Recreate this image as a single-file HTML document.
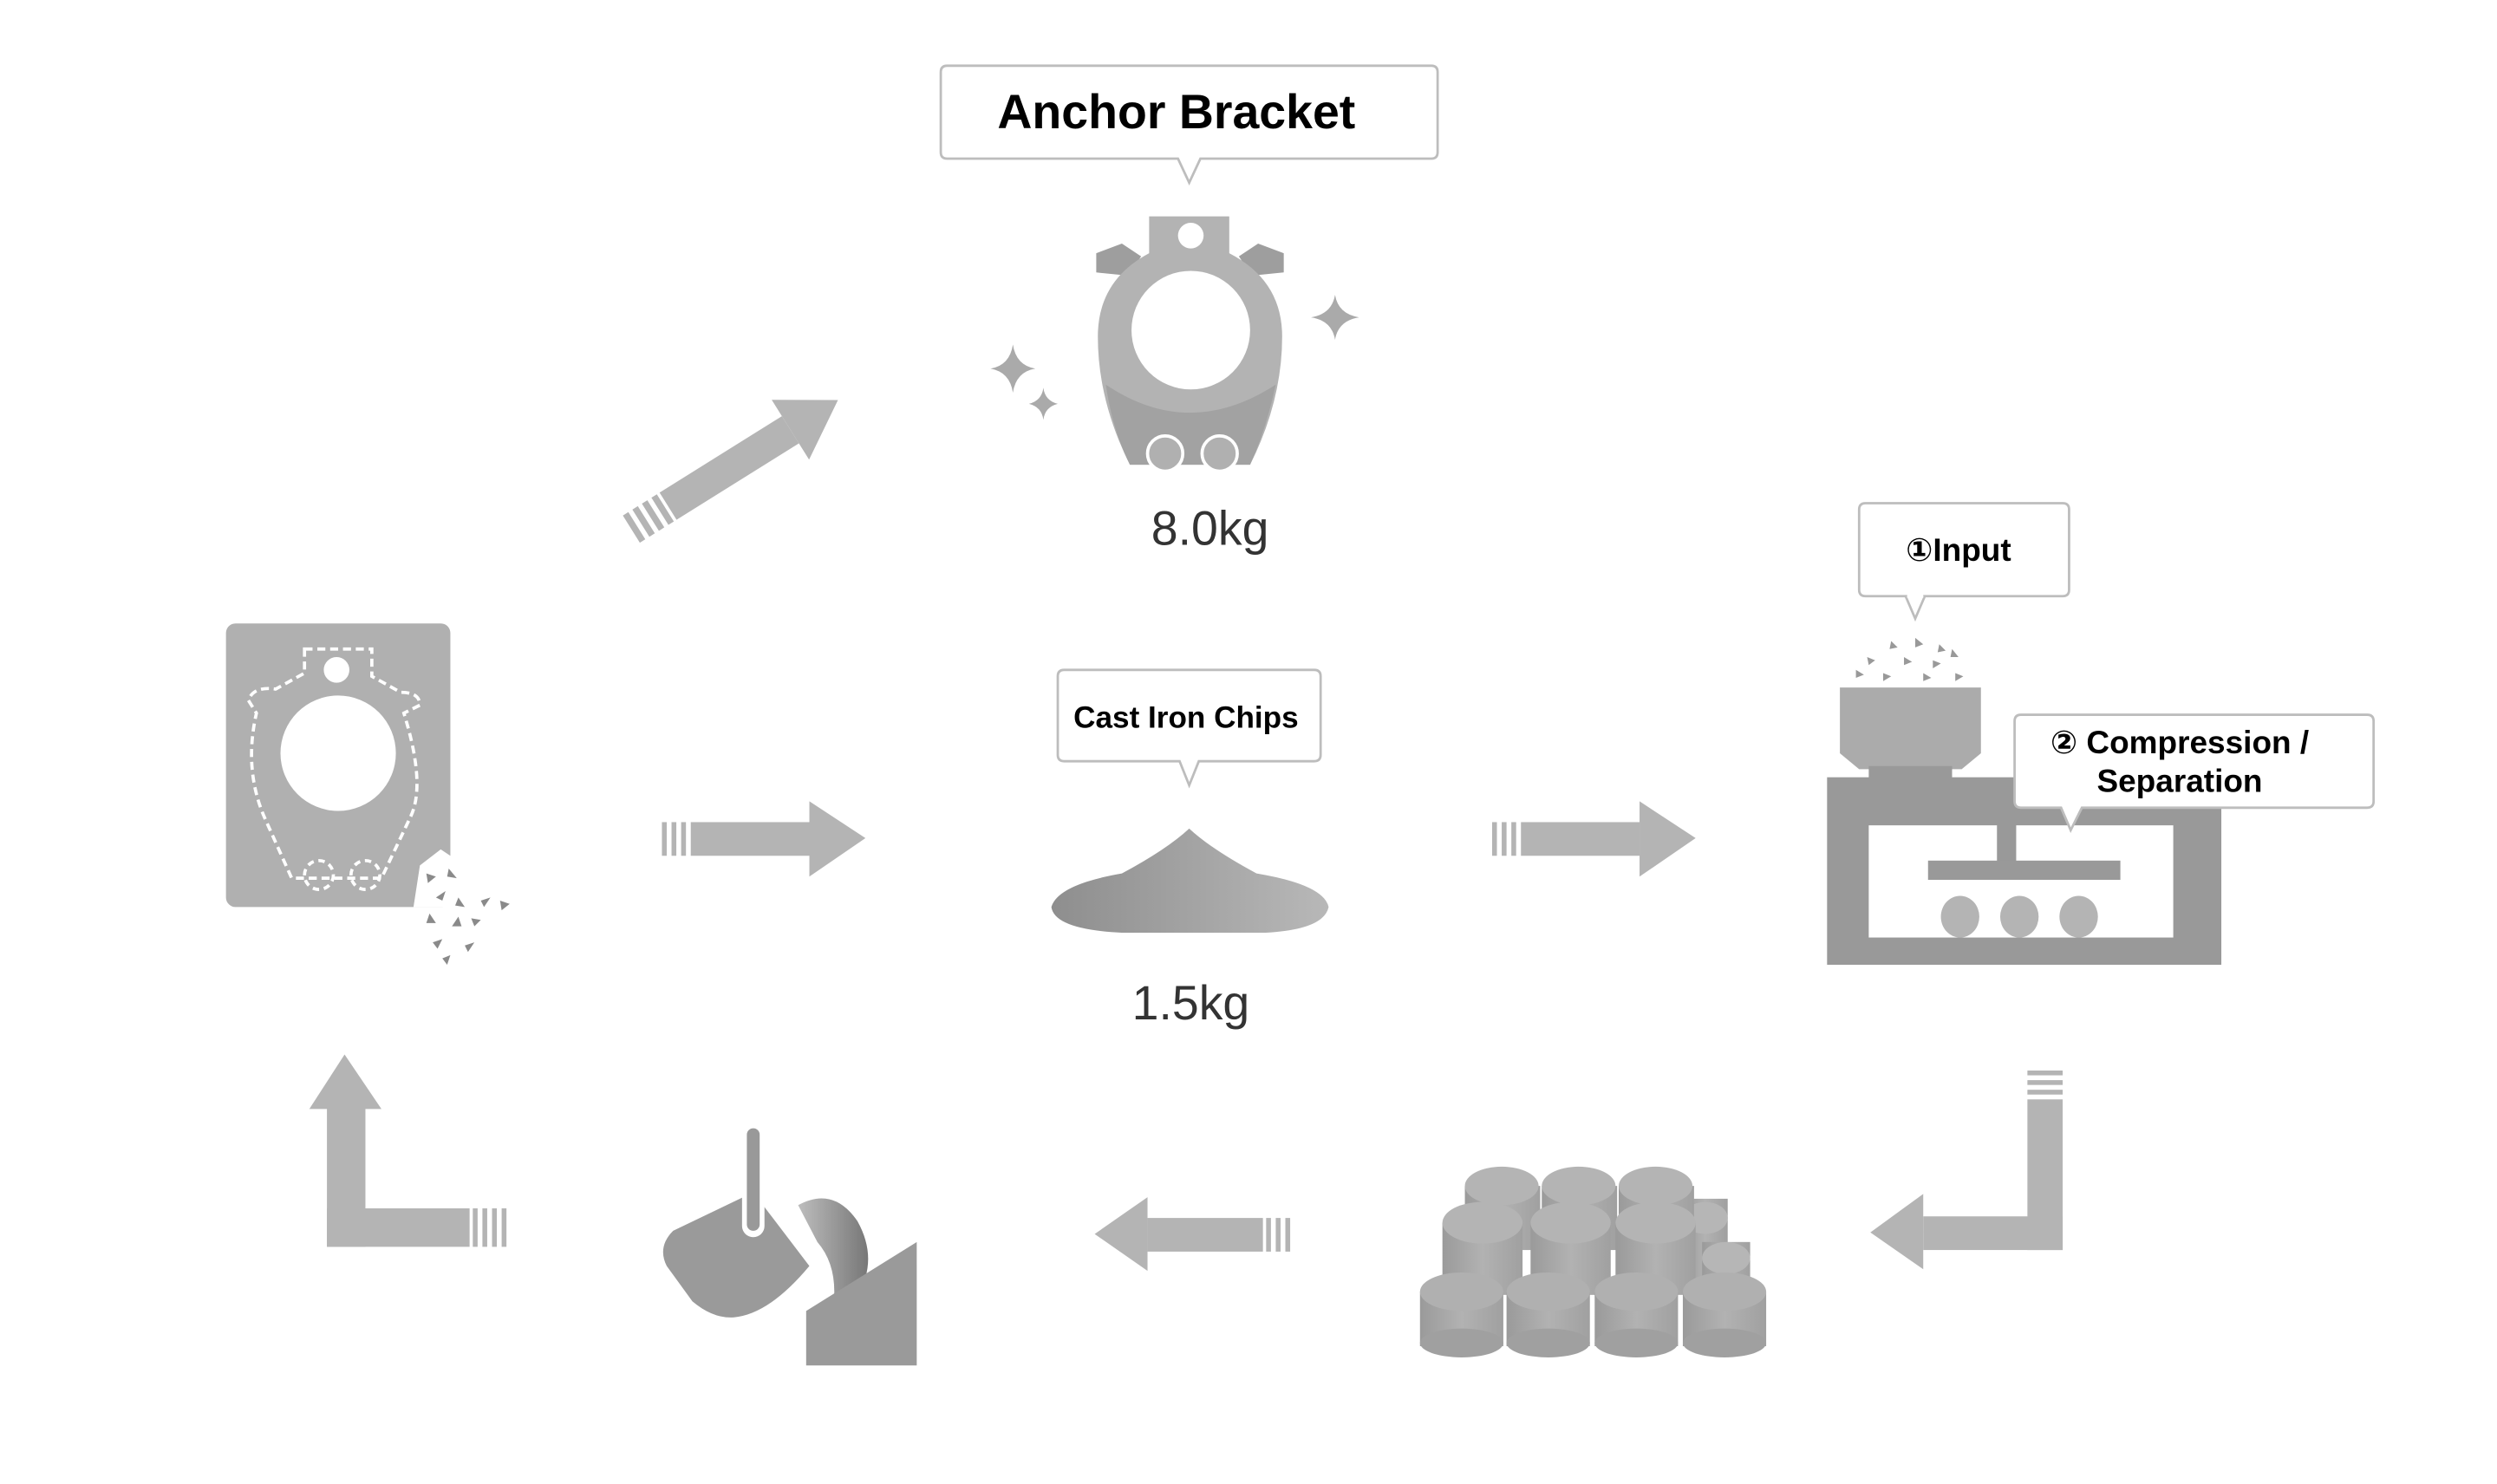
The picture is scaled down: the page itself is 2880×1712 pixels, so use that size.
<!DOCTYPE html>
<html><head><meta charset="utf-8"><style>
html,body{margin:0;padding:0;background:#fff;width:2880px;height:1712px;overflow:hidden}
svg{display:block}
text{font-family:"Liberation Sans","DejaVu Sans",sans-serif}
</style></head><body>
<svg width="2880" height="1712" viewBox="0 0 1558 926" preserveAspectRatio="none" xmlns="http://www.w3.org/2000/svg">
<defs>
<linearGradient id="cyl" x1="0" x2="1"><stop offset="0" stop-color="#9a9a9a"/><stop offset="0.5" stop-color="#b2b2b2"/><stop offset="1" stop-color="#a0a0a0"/></linearGradient>
<linearGradient id="pile" x1="0" x2="1"><stop offset="0" stop-color="#8e8e8e"/><stop offset="1" stop-color="#b8b8b8"/></linearGradient>
<linearGradient id="ladle" x1="0" x2="1"><stop offset="0" stop-color="#bdbdbd"/><stop offset="1" stop-color="#777"/></linearGradient>
</defs>
<rect width="1558" height="926" fill="#fff"/>

<!-- Anchor Bracket callout -->
<path d="M591,41 H893 Q897,41 897,45 V95 Q897,99 893,99 H749 L742,114 L735,99 H591 Q587,99 587,95 V45 Q587,41 591,41 Z" fill="#fff" stroke="#bdbdbd" stroke-width="1.5"/>
<text x="734" y="80" font-size="30" font-weight="bold" text-anchor="middle" fill="#000">Anchor Bracket</text>

<!-- bracket icon -->
<polygon points="684,158 700,152 712,160 704,172 684,170" fill="#9e9e9e"/>
<polygon points="801,158 785,152 773,160 781,172 801,170" fill="#9e9e9e"/>
<path d="M717,135 H767 V158 Q800,175 800,210 Q800,250 780,290 H705 Q685,250 685,210 Q685,175 717,158 Z" fill="#b3b3b3"/>
<path d="M690,240 Q742,275 796,240 Q790,268 780,290 H705 Q694,268 690,240 Z" fill="#a2a2a2"/>
<circle cx="743" cy="147" r="8" fill="#fff"/>
<circle cx="743" cy="206" r="37" fill="#fff"/>
<circle cx="727" cy="283" r="11" fill="#b0b0b0" stroke="#fff" stroke-width="2"/>
<circle cx="761" cy="283" r="11" fill="#b0b0b0" stroke="#fff" stroke-width="2"/>
<g fill="#aaa">
<path d="M632,215 Q634,228 646,230 Q634,232 632,245 Q630,232 618,230 Q630,228 632,215Z"/>
<path d="M651,242 Q652,250 660,252 Q652,254 651,262 Q650,254 642,252 Q650,250 651,242Z"/>
<path d="M833,184 Q835,196 848,198 Q835,200 833,212 Q831,200 818,198 Q831,196 833,184Z"/>
</g>
<text x="755" y="340" font-size="30" text-anchor="middle" fill="#333" font-family="Liberation Serif,serif">8.0kg</text>

<!-- diagonal arrow -->
<g transform="translate(455,292) rotate(-32)">
<rect x="-45" y="-10" width="90" height="20" fill="#b4b4b4"/>
<polygon points="45,-22 80,0 45,22" fill="#b4b4b4"/>
<rect x="-72" y="-10" width="4" height="20" fill="#b4b4b4"/>
<rect x="-65" y="-10" width="4" height="20" fill="#b4b4b4"/>
<rect x="-58" y="-10" width="4" height="20" fill="#b4b4b4"/>
<rect x="-51" y="-10" width="4" height="20" fill="#b4b4b4"/>
</g>

<!-- left plate -->
<rect x="141" y="389" width="140" height="177" rx="6" fill="#b0b0b0"/>
<path d="M190,405 H232 V422 L250,432 Q262,432 262,440 L252,445 Q266,490 256,510 L238,548 H182 L165,510 Q152,480 160,445 L155,437 Q158,428 172,430 L190,420 Z" fill="none" stroke="#fff" stroke-width="2" stroke-dasharray="5,3"/>
<circle cx="199" cy="546" r="9" fill="none" stroke="#fff" stroke-width="2" stroke-dasharray="4,3"/>
<circle cx="228" cy="546" r="9" fill="none" stroke="#fff" stroke-width="2" stroke-dasharray="4,3"/>
<circle cx="210" cy="418" r="8" fill="#fff"/>
<circle cx="211" cy="470" r="36" fill="#fff"/>
<path d="M258,566 L262,540 L275,530 L290,540 L290,566 Z" fill="#fff"/>
<g fill="#8a8a8a">
<polygon points="266,545 272,547 267,551"/><polygon points="280,542 285,548 279,547"/>
<polygon points="272,560 278,556 276,562"/><polygon points="286,560 290,566 284,565"/>
<polygon points="300,562 306,560 302,566"/><polygon points="268,570 272,576 266,576"/>
<polygon points="282,578 286,572 288,578"/><polygon points="294,573 300,574 296,578"/>
<polygon points="270,588 276,586 273,592"/><polygon points="290,590 296,588 292,594"/>
<polygon points="276,598 281,596 279,602"/><polygon points="312,562 318,564 313,568"/>
</g>

<!-- middle arrows -->
<g fill="#b4b4b4">
<rect x="413" y="513" width="3" height="21"/><rect x="419" y="513" width="3" height="21"/><rect x="425" y="513" width="3" height="21"/>
<rect x="431" y="513" width="74" height="21"/><polygon points="505,500 540,523 505,547"/>
<rect x="931" y="513" width="3" height="21"/><rect x="937" y="513" width="3" height="21"/><rect x="943" y="513" width="3" height="21"/>
<rect x="949" y="513" width="74" height="21"/><polygon points="1023,500 1058,523 1023,547"/>
</g>

<!-- Cast Iron Chips callout -->
<path d="M664,418 H820 Q824,418 824,422 V471 Q824,475 820,475 H748 L742,490 L736,475 H664 Q660,475 660,471 V422 Q660,418 664,418 Z" fill="#fff" stroke="#bdbdbd" stroke-width="1.5"/>
<text x="740" y="454" font-size="19" font-weight="bold" text-anchor="middle" fill="#000">Cast Iron Chips</text>
<path d="M656,566 Q660,552 700,545 Q728,530 742,517 Q756,530 784,545 Q826,552 829,566 Q826,580 790,582 H700 Q658,580 656,566 Z" fill="url(#pile)"/>
<text x="743" y="636" font-size="30" text-anchor="middle" fill="#333" font-family="Liberation Serif,serif">1.5kg</text>

<!-- machine -->
<path d="M1164,372 H1287 Q1291,372 1291,368 V318 Q1291,314 1287,314 H1164 Q1160,314 1160,318 V368 Q1160,372 1164,372 Z" fill="#fff" stroke="#bdbdbd" stroke-width="1.5"/>
<path d="M1189,372 L1195,386 L1201,372" fill="#fff" stroke="#bdbdbd" stroke-width="1.5"/>
<rect x="1190" y="371" width="10" height="2" fill="#fff"/>
<text x="1222" y="350" font-size="20" font-weight="bold" text-anchor="middle" fill="#000">①Input</text>
<g fill="#999">
<polygon points="1180,400 1184,404 1179,405"/><polygon points="1195,398 1200,402 1195,404"/>
<polygon points="1165,410 1170,412 1166,415"/><polygon points="1188,410 1193,413 1188,415"/>
<polygon points="1206,412 1211,414 1206,417"/><polygon points="1218,405 1222,410 1217,410"/>
<polygon points="1158,418 1163,421 1158,423"/><polygon points="1175,420 1180,422 1175,425"/>
<polygon points="1200,420 1205,423 1200,425"/><polygon points="1220,420 1225,422 1220,425"/>
<polygon points="1210,402 1214,406 1209,407"/>
</g>
<polygon points="1148,429 1236,429 1236,470 1224,480 1160,480 1148,470" fill="#ababab"/>
<rect x="1166" y="478" width="52" height="10" fill="#999"/>
<rect x="1140" y="485" width="246" height="117" fill="#999"/>
<rect x="1166" y="515" width="190" height="70" fill="#fff"/>
<rect x="1246" y="512" width="12" height="27" fill="#999"/>
<rect x="1203" y="537" width="120" height="12" fill="#999"/>
<ellipse cx="1223" cy="572" rx="12" ry="13" fill="#b4b4b4"/>
<ellipse cx="1260" cy="572" rx="12" ry="13" fill="#b4b4b4"/>
<ellipse cx="1297" cy="572" rx="12" ry="13" fill="#b4b4b4"/>
<path d="M1261,446 H1477 Q1481,446 1481,450 V500 Q1481,504 1477,504 H1299 L1292,518 L1286,504 H1261 Q1257,504 1257,500 V450 Q1257,446 1261,446 Z" fill="#fff" stroke="#bdbdbd" stroke-width="1.5"/>
<text x="1360" y="470" font-size="20" font-weight="bold" text-anchor="middle" fill="#000">② Compression /</text>
<text x="1360" y="494" font-size="20" font-weight="bold" text-anchor="middle" fill="#000">Separation</text>

<!-- right bent arrow -->
<g fill="#b4b4b4">
<rect x="1265" y="668" width="22" height="3"/><rect x="1265" y="674" width="22" height="3"/><rect x="1265" y="680" width="22" height="3"/>
<rect x="1265" y="686" width="22" height="94"/>
<rect x="1200" y="759" width="87" height="21"/>
<polygon points="1200,745 1167,769 1200,792"/>
</g>

<!-- briquettes -->
<g>
<rect x="1050" y="748" width="28" height="50" fill="url(#cyl)"/><ellipse cx="1064" cy="760" rx="14" ry="10" fill="#b6b6b6"/>
<rect x="1062" y="775" width="30" height="50" fill="url(#cyl)"/><ellipse cx="1077" cy="785" rx="15" ry="10" fill="#b6b6b6"/>
<rect x="914" y="740" width="47" height="40" fill="url(#cyl)"/><ellipse cx="937" cy="740" rx="23" ry="12" fill="#b4b4b4"/>
<rect x="962" y="740" width="47" height="40" fill="url(#cyl)"/><ellipse cx="985" cy="740" rx="23" ry="12" fill="#b4b4b4"/>
<rect x="1010" y="740" width="47" height="40" fill="url(#cyl)"/><ellipse cx="1033" cy="740" rx="23" ry="12" fill="#b4b4b4"/>
<rect x="900" y="763" width="50" height="45" fill="url(#cyl)"/><ellipse cx="925" cy="763" rx="25" ry="13" fill="#b4b4b4"/>
<rect x="955" y="763" width="50" height="45" fill="url(#cyl)"/><ellipse cx="980" cy="763" rx="25" ry="13" fill="#b4b4b4"/>
<rect x="1008" y="763" width="50" height="45" fill="url(#cyl)"/><ellipse cx="1033" cy="763" rx="25" ry="13" fill="#b4b4b4"/>
<rect x="886" y="806" width="52" height="34" fill="url(#cyl)"/><ellipse cx="912" cy="806" rx="26" ry="12" fill="#b0b0b0"/><ellipse cx="912" cy="838" rx="26" ry="9" fill="#a0a0a0"/>
<rect x="940" y="806" width="52" height="34" fill="url(#cyl)"/><ellipse cx="966" cy="806" rx="26" ry="12" fill="#b0b0b0"/><ellipse cx="966" cy="838" rx="26" ry="9" fill="#a0a0a0"/>
<rect x="995" y="806" width="52" height="34" fill="url(#cyl)"/><ellipse cx="1021" cy="806" rx="26" ry="12" fill="#b0b0b0"/><ellipse cx="1021" cy="838" rx="26" ry="9" fill="#a0a0a0"/>
<rect x="1050" y="806" width="52" height="34" fill="url(#cyl)"/><ellipse cx="1076" cy="806" rx="26" ry="12" fill="#b0b0b0"/><ellipse cx="1076" cy="838" rx="26" ry="9" fill="#a0a0a0"/>
</g>

<!-- bottom left arrow -->
<g fill="#b4b4b4">
<polygon points="716,747 683,770 716,793"/>
<rect x="716" y="760" width="72" height="21"/>
<rect x="790" y="760" width="3" height="21"/><rect x="796" y="760" width="3" height="21"/><rect x="802" y="760" width="3" height="21"/>
</g>

<!-- ladle -->
<path d="M470,744 L505,790 Q480,820 458,822 Q445,823 432,812 L416,790 Q410,778 420,768 Z" fill="#9a9a9a"/>
<rect x="463" y="704" width="14" height="68" rx="7" fill="#fff"/>
<rect x="466" y="704" width="8" height="64" rx="4" fill="#999"/>
<path d="M498,752 Q520,740 535,762 Q545,780 540,797 L520,815 Q523,790 510,775 Z" fill="url(#ladle)"/>
<polygon points="503,818 572,775 572,852 503,852" fill="#9a9a9a"/>

<!-- left L arrow -->
<g fill="#b4b4b4">
<polygon points="215,658 238,692 193,692"/>
<rect x="204" y="690" width="24" height="88"/>
<rect x="204" y="754" width="89" height="24"/>
<rect x="295" y="754" width="3" height="24"/><rect x="301" y="754" width="3" height="24"/><rect x="307" y="754" width="3" height="24"/><rect x="313" y="754" width="3" height="24"/>
</g>
</svg>
</body></html>
